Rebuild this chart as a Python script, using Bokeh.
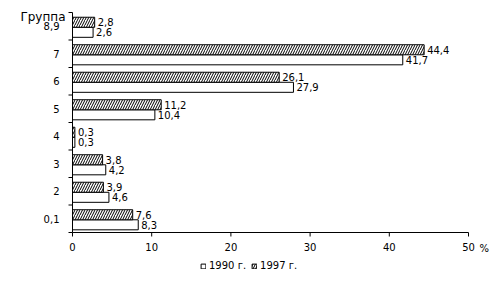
from bokeh.plotting import figure
from bokeh.models import Range1d, ColumnDataSource, Legend, LegendItem
from bokeh.core.properties import value
from bokeh.embed import file_html
from bokeh.resources import INLINE

groups = ["0,1", "2", "3", "4", "5", "6", "7", "8,9"]
v1990 = [8.3, 4.6, 4.2, 0.3, 10.4, 27.9, 41.7, 2.6]
v1997 = [7.6, 3.9, 3.8, 0.3, 11.2, 26.1, 44.4, 2.8]
x_ticks = [0, 10, 20, 30, 40, 50]
x_max = 50

FONT = "DejaVu Sans"
FS = "10px"

W, H = 501, 281
# plot frame edges in pixels
L, R, T, B = 72, 468, 12, 232

n = len(groups)
y_top = 2 * n
pxx = (R - L) / x_max
pxy = (B - T) / y_top

def fmt(v):
    return ("%.1f" % v).replace(".", ",")

centers = [2 * i + 1 for i in range(n)]
y97 = [c + 0.29 for c in centers]
y90 = [c - 0.44 for c in centers]

s90 = ColumnDataSource(dict(y=y90, x=v1990, lab=[fmt(v) for v in v1990]))
s97 = ColumnDataSource(dict(y=y97, x=v1997, lab=[fmt(v) for v in v1997]))

p = figure(width=W, height=H, output_backend="svg", toolbar_location=None,
           x_range=Range1d(-L / pxx, (W - L) / pxx),
           y_range=Range1d(-(H - B) / pxy, y_top + T / pxy),
           min_border=0, x_axis_type=None, y_axis_type=None)
p.outline_line_color = None
p.grid.grid_line_color = None
p.background_fill_color = "white"
p.border_fill_color = "white"

r90 = p.hbar(y="y", right="x", left=0, height=0.73, source=s90,
             fill_color="white", line_color="black", line_width=1)
r97 = p.hbar(y="y", right="x", left=0, height=0.73, source=s97,
             fill_color="white", line_color="black", line_width=1,
             hatch_pattern="/", hatch_color="black", hatch_scale=5, hatch_weight=1)

for src in (s90, s97):
    p.text(x="x", y="y", text="lab", source=src, x_offset=3,
           text_font=value(FONT), text_font_size=FS, text_color="black",
           text_baseline="middle", text_align="left")

tick_x = 4 / pxx
tick_y = 4 / pxy

# axis lines
p.segment(x0=[0, 0], y0=[0, 0], x1=[x_max, 0], y1=[0, y_top], line_color="black", line_width=1)
# x ticks
p.segment(x0=x_ticks, y0=[0] * len(x_ticks), x1=x_ticks, y1=[-tick_y] * len(x_ticks),
          line_color="black", line_width=1)
p.text(x=x_ticks, y=[-tick_y] * len(x_ticks), text=[str(t) for t in x_ticks], y_offset=6,
       text_font=value(FONT), text_font_size=FS, text_color="black",
       text_baseline="top", text_align="center")
p.text(x=[x_max], y=[-tick_y], text=["%"], x_offset=11, y_offset=6,
       text_font=value(FONT), text_font_size=FS, text_color="black",
       text_baseline="top", text_align="left")
# y ticks (category boundaries)
bounds = list(range(0, y_top + 1, 2))
p.segment(x0=[0] * len(bounds), y0=bounds, x1=[-tick_x] * len(bounds), y1=bounds,
          line_color="black", line_width=1)
p.text(x=[0] * n, y=centers, text=groups, x_offset=-13,
       text_font=value(FONT), text_font_size=FS, text_color="black",
       text_baseline="middle", text_align="right")
p.text(x=[0], y=[y_top], text=["Группа"], x_offset=-7, y_offset=4,
       text_font=value(FONT), text_font_size="12px", text_color="black",
       text_baseline="middle", text_align="right")

legend = Legend(items=[LegendItem(label="1990 г.", renderers=[r90]),
                       LegendItem(label="1997 г.", renderers=[r97])],
                location=(200, 10), orientation="horizontal",
                glyph_width=6, glyph_height=6, label_standoff=3, spacing=5,
                padding=0, margin=0, border_line_color=None, background_fill_alpha=0,
                label_text_font=FONT, label_text_font_size=FS, label_text_color="black",
                label_height=10)
p.add_layout(legend, "center")

open("out.html", "w").write(file_html(p, INLINE))
